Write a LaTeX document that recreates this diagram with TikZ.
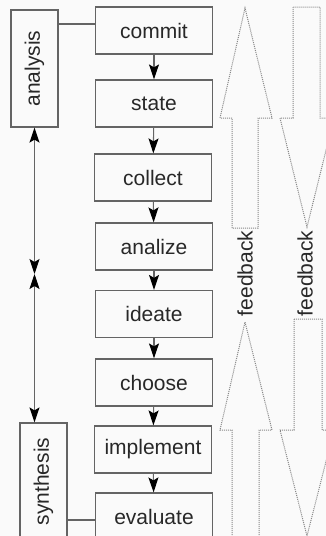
\documentclass[tikz,border=0pt]{standalone}
\usepackage{fontspec}
\setmainfont{Liberation Sans}
\usetikzlibrary{arrows.meta}
\usetikzlibrary{positioning}

\definecolor{boxgray}{RGB}{100,100,100}
\definecolor{textgray}{RGB}{40,40,40}
\definecolor{dotgray}{RGB}{135,135,135}
\definecolor{paper}{RGB}{250,250,250}

\begin{document}
\begin{tikzpicture}[x=1pt, y=-1pt]
    \tikzset{
        steptip/.tip={Stealth[length=15pt, width=10pt, inset=3pt, color=black]},
        stepbox/.style={draw=boxgray, line width=1.2pt, minimum width=117pt, minimum height=47pt,
            inner sep=0pt, text=textgray, font=\fontsize{21}{23}\selectfont},
        sidebox/.style={stepbox, rotate=90},
        link/.style={draw=boxgray, line width=1.1pt},
        flow/.style={link, -steptip},
        twoway/.style={link, steptip-steptip},
        fback/.style={draw=dotgray, line width=1pt, dash pattern=on 1pt off 1pt}
    }

    \fill[paper] (0,0) rectangle (326,536);
    \useasboundingbox (0,0) rectangle (326,536);

    % the steps
    \node[stepbox] (commit) at (154,30.5) {commit};
    \node[stepbox] (state) at (154,103.5) {state};
    \node[stepbox] (collect) at (153,177.5) {collect};
    \node[stepbox] (analize) at (154,246.5) {analize};
    \node[stepbox] (ideate) at (154,314) {ideate};
    \node[stepbox] (choose) at (154,382.5) {choose};
    \node[stepbox] (implement) at (153,449.5) {implement};
    \node[stepbox] (evaluate) at (154,516.5) {evaluate};

    \foreach \a/\b in {commit/state, state/collect, collect/analize, analize/ideate,
                       ideate/choose, choose/implement, implement/evaluate}
        \draw[flow] (\a) -- (\b);

    % the two sides
    \node[sidebox] (analysis) at (34.5,68.5) {analysis};
    \node[sidebox] (synthesis) at (43.5,481.5) {synthesis};

    \draw[link] ([yshift=6.5pt]commit.west) -- ([yshift=6.5pt]commit.west -| analysis.south);
    \draw[link] ([yshift=-3.5pt]evaluate.west) -- ([yshift=-3.5pt]evaluate.west -| synthesis.south);

    \coordinate (mid) at (34.5,274);
    \draw[twoway] (analysis.west) -- (mid);
    \draw[twoway] (mid) -- (mid |- synthesis.east);

    % feedback arrows
    \draw[fback] (232,228) -- (232,118) -- (220,118) -- (245,8) -- (272,118) -- (258,118) -- (258,228) -- cycle;
    \draw[fback] (232,545) -- (232,430) -- (220,430) -- (245,322) -- (272,430) -- (259,430) -- (259,545);
    \draw[fback] (293,7) -- (293,118) -- (280,118) -- (307,227) -- (334,118) -- (320,118) -- (320,7) -- cycle;
    \draw[fback] (294,319) -- (294,430) -- (280,430) -- (307,536) -- (334,430) -- (322,430) -- (322,319) -- cycle;

    \node[rotate=90, text=textgray, font=\fontsize{21}{23}\selectfont] (fbleft) at (245,273.5) {feedback};
    \node[rotate=90, text=textgray, font=\fontsize{21}{23}\selectfont] (fbright) at (305,273.5) {feedback};

\end{tikzpicture}
\end{document}
